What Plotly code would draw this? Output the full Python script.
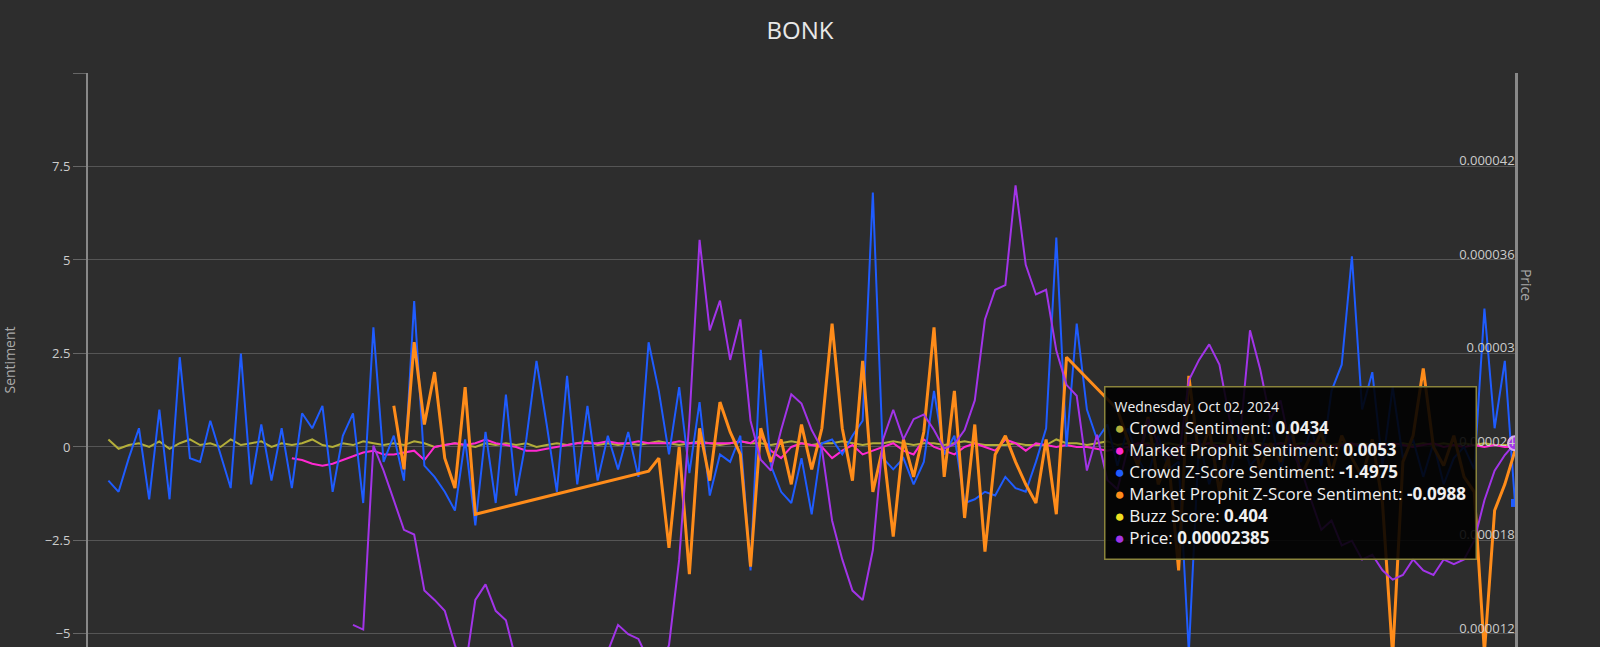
import plotly.graph_objects as go
import pandas as pd

N = 140
dates = pd.date_range("2023-12-29", periods=N, freq="2D")

crowd_sent = [None, 0.2, -0.05, 0.05, 0.1, 0.0, 0.15, -0.05, 0.1, 0.2, 0.05, 0.1, 0.0, 0.2, 0.05,
              0.1, 0.15, 0.0, 0.1, 0.05, 0.1, 0.2, 0.05, 0.0, 0.1, 0.05, 0.15, 0.1, 0.05, 0.1,
              0.05, 0.15, 0.1, 0.0, 0.05, 0.1, 0.05, 0.0, 0.1, 0.05, 0.1, 0.05, 0.1, 0.0, 0.05,
              0.1, 0.05, 0.1, 0.15, 0.05, 0.1, 0.05, 0.1, 0.05, 0.1, 0.15, 0.1, 0.05, 0.1, 0.15,
              0.1, 0.05, 0.1, 0.15, 0.1, 0.1, 0.05, 0.1, 0.15, 0.1, 0.05, 0.1, 0.1, 0.15, 0.1,
              0.05, 0.1, 0.1, 0.15, 0.1, 0.05, 0.1, 0.1, 0.05, 0.1, 0.15, 0.1, 0.05, 0.05, 0.05,
              0.1, 0.05, 0.05, 0.05, 0.2, 0.1, 0.1, 0.05, 0.1, 0.15, 0.05, 0.1, 0.05, 0.1, 0.05,
              0.1, 0.05, 0.1, 0.05, 0.1, 0.1, 0.05, 0.1, 0.05, 0.1, 0.05, 0.1, 0.05, 0.1, 0.05,
              0.1, 0.05, 0.1, 0.05, 0.1, 0.05, 0.1, 0.05, 0.1, 0.05, 0.1, 0.05, 0.1, 0.05, 0.1,
              0.05, 0.1, 0.05, 0.05, 0.0434]

mp_sent = [None]*12 + [-0.3, -0.35, -0.45, -0.5, -0.45, -0.35, -0.25, -0.15, -0.1, -0.2,
           -0.2, -0.15, -0.1, -0.35, 0.0, 0.05, 0.1, 0.05, 0.1, 0.2, 0.1, 0.05, 0.0, -0.1,
           -0.1, -0.05, 0.0, 0.05, 0.1, 0.1, 0.1, 0.15, 0.1, 0.1, 0.15, 0.1, 0.1, 0.1, 0.15,
           0.1, 0.1, 0.1, 0.1, 0.1, 0.15, 0.1, 0.3, -0.1, -0.3, 0.0, 0.1, 0.05, 0.0, -0.3,
           -0.1, 0.05, -0.2, -0.1, 0.0, 0.1, -0.1, -0.2, 0.2, 0.0, -0.1, -0.2, 0.0, 0.1,
           0.0, -0.1, 0.2, 0.1, -0.1, 0.1, 0.05, 0.0, 0.05, 0.0, 0.0, -0.05, -0.1, -0.05, 0.0,
           0.1, 0.05, -0.1, -0.3, 0.0, 0.1, 0.05, 0.1, 0.0, 0.1, 0.05, 0.1, 0.0, 0.05, 0.1,
           0.05, 0.0, 0.1, 0.05, 0.0, 0.05, 0.1, 0.0, 0.05, 0.0, 0.1, 0.05, 0.0, 0.05, 0.1,
           0.0, 0.05, 0.0, 0.05, 0.0, 0.05, 0.0, 0.0053]

crowd_z = [None, -0.9, -1.2, -0.3, 0.5, -1.4, 1.0, -1.4, 2.4, -0.3,
           -0.4, 0.7, -0.2, -1.1, 2.5, -1.0, 0.6, -0.9, 0.5, -1.1,
           0.9, 0.5, 1.1, -1.2, 0.3, 0.9, -1.5, 3.2, -0.4, 0.3,
           -0.9, 3.9, -0.5, -0.8, -1.2, -1.7, 0.2, -2.1, 0.4, -1.5,
           1.4, -1.3, 0.2, 2.3, 0.6, -1.2, 1.9, -1.0, 1.1, -0.9,
           0.3, -0.6, 0.4, -0.8, 2.8, 1.5, -0.2, 1.6, -0.7, 1.2,
           -1.3, -0.2, -0.4, 0.3, -3.3, 2.6, -0.5, -1.2, -1.5, -0.3,
           -1.8, 0.1, 0.2, -0.2, 0.3, 0.7, 6.8, -0.3, -0.6, -0.3,
           -1.0, -0.4, 1.5, -0.2, 0.3, -1.5, -1.4, -1.2, -1.3, -0.8,
           -1.1, -1.2, -0.4, 0.5, 5.6, 0.0, 3.3, 1.0, 0.2, 0.6,
           -0.5, 0.5, -0.3, -0.8, 0.3, -0.6, -0.4, -5.5, 0.2, -1.0,
           0.0, -0.8, 0.4, -0.5, -0.2, 0.8, -0.6, 0.3, -0.4, 0.5,
           -0.5, 1.5, 2.2, 5.1, 1.0, 2.0, -0.5, 1.6, -0.3, 0.2,
           -0.8, 0.1, -1.0, -0.3, 0.0, -0.6, 3.7, 0.5, 2.3, -1.4975]

mp_z = [None]*29 + [1.1, -0.6, 2.8, 0.6, 2.0, -0.3, -1.1, 1.6, -1.8] + [None]*16 + \
       [-0.65, -0.3, -2.7, 0.0, -3.4, 0.5, -0.9, 1.2, 0.4, -0.2,
        -3.2, 0.5, -0.4, 0.2, -1.0, 0.6, -0.6, 0.5, 3.3, 0.5,
        -0.9, 2.3, -1.2, 0.0, -2.4, 0.2, -0.8, 0.4, 3.2, -0.8,
        1.5, -1.9, 0.6, -2.8, -0.2, 0.3, -0.4, -1.0, -1.5, 0.2,
        -1.8, 2.4] + [None]*4 + \
       [1.0, 0.2, -0.5, 0.8, -1.0, -0.3, -3.3, 1.9, -0.3, 0.5,
        -1.2, 0.4, -0.3, 0.6, -0.6, 0.1, -0.4, 0.6, -0.8, -0.2,
        0.4, -0.7, 0.3, -0.3, -0.8, 0.2, -1.5, -5.6, -0.4, 0.3,
        2.1, 0.0, -0.5, 0.3, -0.8, -1.2, -5.5, -1.7, -1.0, -0.0988]

buzz_score = [0.404]

price_micro = [None]*25 + [12.2, 11.9, 23.7, 22.1, 20.2, 18.3, 18.0, 14.4, 13.8, 13.1,
               10.9, 9.3, 13.8, 14.8, 13.1, 12.5, 9.9, 9.0, 8.5, 8.2,
               8.8, 8.0, 7.8, 8.5, 9.5, 10.5, 12.2, 11.6, 11.3, 9.9,
               9.3, 10.9, 16.4, 25.3, 36.9, 31.1, 33.0, 29.2, 31.8, 25.3,
               22.8, 22.1, 24.7, 27.0, 26.4, 24.7, 23.5, 18.9, 16.4, 14.4,
               13.8, 17.0, 24.1, 26.0, 24.1, 25.4, 25.7, 24.7, 23.5, 23.8,
               24.7, 26.6, 31.8, 33.7, 34.0, 40.4, 35.3, 33.4, 33.7, 29.8,
               27.6, 26.9, 22.1, 24.4, 21.5, 20.9, 23.5, 22.8, 25.4, 23.8,
               23.5, 22.8, 27.9, 29.2, 30.2, 28.9, 25.4, 24.1, 31.1, 28.6,
               25.4, 26.6, 23.5, 22.2, 20.2, 18.3, 18.9, 17.3, 17.6, 16.4,
               16.7, 15.7, 15.1, 15.4, 16.4, 15.7, 15.4, 16.4, 16.1, 16.4,
               17.6, 20.2, 22.1, 23.1, 23.85]
price = [None if v is None else v * 1e-6 for v in price_micro]


def xs(a):
    # every series ends on the last date (the tooltip date)
    return dates[N - len(a):]


BG = "#2d2d2d"
fig = go.Figure()
fig.add_trace(go.Scatter(x=xs(crowd_sent), y=crowd_sent, name="Crowd Sentiment", mode="lines",
                         line=dict(color="#b3ae3a", width=2)))
fig.add_trace(go.Scatter(x=xs(mp_sent), y=mp_sent, name="Market Prophit Sentiment", mode="lines",
                         line=dict(color="#ff28d2", width=2)))
fig.add_trace(go.Scatter(x=xs(price), y=price, name="Price", mode="lines", yaxis="y2",
                         line=dict(color="#a234e8", width=2)))
fig.add_trace(go.Scatter(x=xs(crowd_z), y=crowd_z, name="Crowd Z-Score Sentiment", mode="lines",
                         line=dict(color="#1f5cff", width=2)))
fig.add_trace(go.Scatter(x=xs(mp_z), y=mp_z, name="Market Prophit Z-Score Sentiment", mode="lines",
                         connectgaps=True, line=dict(color="#ff8c1a", width=3)))
fig.add_trace(go.Scatter(x=[dates[-1]], y=[crowd_z[-1]], mode="markers",
                         marker=dict(symbol="square", size=8, color="#1f5cff")))
fig.add_trace(go.Scatter(x=[dates[-1]], y=[price[-1]], mode="markers", yaxis="y2",
                         marker=dict(size=14, color="#a234e8", line=dict(color="#d9a8f5", width=2))))

tip = ("<span style='font-size:14px'>Wednesday, Oct 02, 2024</span><br>"
       f"<span style='color:#b3ae3a'>●</span> Crowd Sentiment: <b>{crowd_sent[-1]}</b><br>"
       f"<span style='color:#ff28d2'>●</span> Market Prophit Sentiment: <b>{mp_sent[-1]}</b><br>"
       f"<span style='color:#1f5cff'>●</span> Crowd Z-Score Sentiment: <b>{crowd_z[-1]}</b><br>"
       f"<span style='color:#ff8c1a'>●</span> Market Prophit Z-Score Sentiment: <b>{mp_z[-1]}</b><br>"
       f"<span style='color:#f0e020'>●</span> Buzz Score: <b>{buzz_score[0]}</b><br>"
       f"<span style='color:#a234e8'>●</span> Price: <b>{price_micro[-1]*1e-6:.8f}</b>")

fig.update_layout(
    width=1600, height=647,
    paper_bgcolor=BG, plot_bgcolor=BG,
    margin=dict(l=85, r=85, t=73, b=0),
    showlegend=False, hovermode=False,
    font=dict(family="Open Sans", color="#cccccc", size=13),
    title=dict(text="BONK", x=0.5, y=0.965, xanchor="center",
               font=dict(size=24, color="#e8e8e8", family="Open Sans")),
    xaxis=dict(visible=False, range=[dates[0] - pd.Timedelta(days=2), dates[-1]]),
    yaxis=dict(range=[-5.35, 10], tickvals=[-5, -2.5, 0, 2.5, 5, 7.5, 10],
               ticktext=["−5", "−2.5", "0", "2.5", "5", "7.5", ""],
               gridcolor="#555555", gridwidth=1, zeroline=False,
               showline=True, linecolor="#888888", linewidth=2,
               ticks="outside", ticklen=13, tickcolor="#666666",
               title=dict(text="Sentiment", font=dict(size=14, color="#aaaaaa"), standoff=35)),
    yaxis2=dict(overlaying="y", side="right", range=[1.078e-5, 4.761e-5],
                tickvals=[1.2e-5, 1.8e-5, 2.4e-5, 3.0e-5, 3.6e-5, 4.2e-5],
                ticktext=["0.000012", "0.000018", "0.000024", "0.00003", "0.000036", "0.000042"],
                ticklabelposition="inside", showgrid=False, zeroline=False,
                showline=True, linecolor="#888888", linewidth=3,
                tickfont=dict(size=13, color="#cccccc")),
    annotations=[
        dict(text="Price", x=(1538 - 85) / 1430, y=0.63, xref="paper", yref="paper",
             showarrow=False, textangle=90, font=dict(size=14, color="#aaaaaa")),
        dict(text=tip, x=(1103 - 85) / 1430, y=(647 - 386) / 574, xref="paper", yref="paper",
             xanchor="left", yanchor="top", align="left", showarrow=False,
             bgcolor="rgba(0,0,0,0.88)", bordercolor="#8a843c", borderwidth=1.5, borderpad=9,
             font=dict(size=17, color="#f0f0f0", family="Open Sans")),
    ],
)
fig.write_html("out.html", config={"displayModeBar": False})
with open("out.html", encoding="utf-8") as f:
    html = f.read()
html = html.replace("<body>", "<body style=\"margin:0;background:#2d2d2d\">", 1)
with open("out.html", "w", encoding="utf-8") as f:
    f.write(html)
